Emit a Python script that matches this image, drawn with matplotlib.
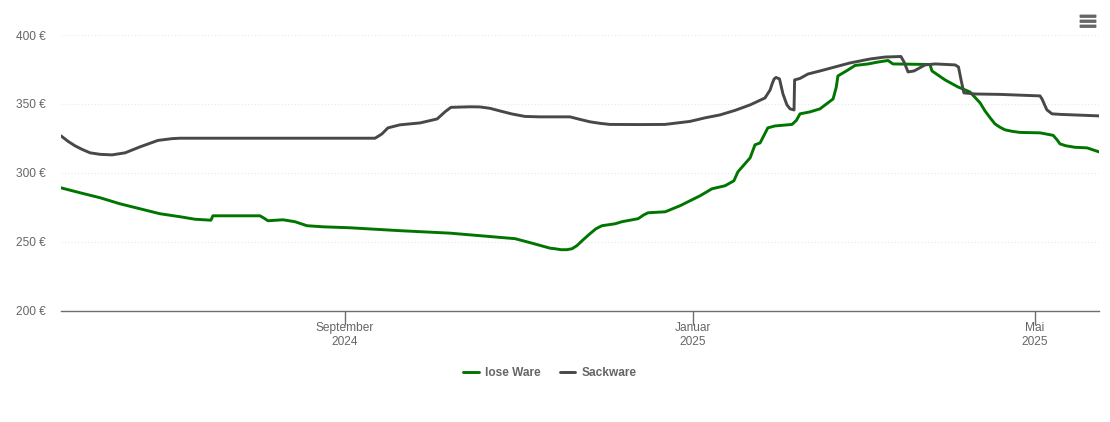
import datetime as dt
import matplotlib
matplotlib.use("Agg")
import matplotlib.pyplot as plt
import matplotlib.dates as mdates
from matplotlib.patches import FancyBboxPatch

plt.rcParams['font.family'] = ['Liberation Sans', 'DejaVu Sans']

START = dt.datetime(2024, 5, 24, 8, 24)

lose_days = [0, 6.7, 13.7, 20.7, 27.7, 34.7, 41.8, 47, 52.6, 53.3, 69.8, 71.3, 72.6, 77.9, 82.1, 86.3, 92, 101.4, 118.9, 136.5, 159.3,
             164.6, 171.6, 173.3, 175.4, 177.5, 179.3, 181, 183.2, 185.6, 187.7, 189.8, 194.4, 196.8, 202.5, 204.5, 206, 212, 217.2, 224.2, 228.4,
             233, 236.1, 237.5, 241.8, 243.5, 245.3, 248, 250.5, 256.5, 258, 259.3, 262.8, 266.3, 270.9, 272, 272.6,
             276.1, 278.6, 283.2, 286.7, 290.2, 291.9, 304.9, 305.6, 310.2, 314.7, 318.9, 322.5, 324.2, 326, 327.7, 329.5,
             331.2, 333.7, 336.5, 343.5, 348.1, 349.5, 350.5, 352.6, 355.8, 360, 364.2]
lose_vals = [289.1, 285.5, 281.9, 277.5, 273.9, 270.3, 268.1, 266.3, 265.6, 268.8, 268.8, 267, 265.2, 265.9, 264.5, 261.6, 260.8, 260.1, 258, 256.2, 252.2,
             249.3, 245.3, 244.9, 244.2, 244.2, 244.9, 247.1, 251.4, 255.8, 259.4, 261.6, 263, 264.5, 266.7, 269.5, 271, 271.7, 276.1, 283.3, 288.4,
             290.6, 294.2, 300.7, 310.9, 320.3, 321.7, 332.6, 334, 335.1, 338, 342.8, 344.2, 346.4, 353.6, 362, 370.3,
             374.6, 377.9, 379, 380.4, 381.5, 379, 378.6, 373.9, 367.4, 362.3, 358.7, 350.7, 344.9, 339.9, 335.5, 333,
             331.2, 330.1, 329.3, 329, 327.2, 323.9, 321, 319.6, 318.5, 318.1, 315.2]

sack_days = [0, 2.5, 4.9, 7.4, 10.2, 13.7, 17.9, 22.5, 27.7, 34, 39, 41.8, 110.2, 112.6, 114.7, 118.9, 126, 132, 134.7, 136.8,
             143.5, 147, 150.5, 154, 158.2, 162.8, 167.9, 178.6, 182, 185.6, 189.1, 192.6, 203.2, 211.9, 220.7, 226, 231.2, 236.5, 241.8, 247, 248.8,
             249.5, 250.2, 250.9, 252.1, 253.3, 254.7, 255.8, 257.2, 257.4, 259.3, 262.1, 266.3, 276.8, 283.9, 289.1, 294.7, 295.8, 297.2,
             299.3, 303.2, 306.7, 313.7, 314.9, 315.8, 316.8, 320.7, 329.5, 343.5, 344.2, 345.9, 347.7, 350.5, 364.2]
sack_vals = [326.8, 322.8, 319.6, 317, 314.5, 313.4, 313, 314.5, 318.8, 323.5, 324.8, 325.1, 325.1, 328.2, 332.6, 334.8, 336.2, 339.1, 344.2, 347.5,
             347.9, 347.8, 346.8, 344.9, 342.7, 340.9, 340.6, 340.6, 338.8, 337, 335.9, 335.1, 335, 335.1, 337.3, 339.9, 342, 345.3, 349.3, 354.3, 360.1,
             364.5, 368.1, 369.2, 368.1, 357.3, 349.3, 346.4, 345.6, 367.4, 368.5, 371.7, 373.9, 379.7, 382.6, 384, 384.4, 380.4, 373.2,
             373.9, 378.3, 379, 378.3, 376.8, 367.4, 358, 357.2, 356.9, 355.8, 353.6, 345.7, 342.8, 342.4, 341.3]

y_ticks = [200, 250, 300, 350, 400]
x_tick_dates = [dt.datetime(2024, 9, 1), dt.datetime(2025, 1, 1), dt.datetime(2025, 5, 1)]
x_tick_labels = ["September\n2024", "Januar\n2025", "Mai\n2025"]

W, H = 1110, 422
fig = plt.figure(figsize=(W / 100, H / 100), dpi=100, facecolor="white")
ax = fig.add_axes([61 / W, 1 - 310.6 / H, (1099 - 61) / W, (310.6 - 35) / H])


def to_dates(days):
    return [START + dt.timedelta(days=d) for d in days]


ax.plot(to_dates(lose_days), lose_vals, color="#007600", lw=2.1, label="lose Ware",
        solid_joinstyle="round", solid_capstyle="round", zorder=3)
ax.plot(to_dates(sack_days), sack_vals, color="#484848", lw=2.1, label="Sackware",
        solid_joinstyle="round", solid_capstyle="round", zorder=4)

ax.set_xlim(START, START + dt.timedelta(days=364.2))
ax.set_ylim(200, 400)
ax.set_facecolor("none")
for s in ("top", "left", "right"):
    ax.spines[s].set_visible(False)
ax.spines["bottom"].set_color("#6e6e6e")
ax.spines["bottom"].set_linewidth(1.0)

ax.set_yticks(y_ticks)
ax.set_yticklabels([f"{v} €" for v in y_ticks])
ax.tick_params(axis="y", length=0, pad=11, labelsize=8.6, labelcolor="#666666")
ax.set_xticks([mdates.date2num(d) for d in x_tick_dates])
ax.set_xticklabels(x_tick_labels, linespacing=1.2)
ax.tick_params(axis="x", length=10, width=1, color="#6e6e6e", pad=-2, labelsize=8.6, labelcolor="#666666")
ax.grid(axis="y", color="#e8e8e8", lw=0.8, ls=(0, (1, 2)))
ax.set_axisbelow(True)

leg = fig.legend(loc="center", bbox_to_anchor=(550 / W, 1 - 373 / H), ncol=2, frameon=False,
                 prop={"size": 8.6, "weight": "bold"}, labelcolor="#666666",
                 handlelength=1.3, handletextpad=0.55, columnspacing=1.55, borderpad=0)

for top in (15, 20, 25):
    fig.add_artist(FancyBboxPatch((1080 / W, 1 - (top + 2.4) / H), 16 / W, 2.4 / H,
                                  boxstyle="round,pad=0", transform=fig.transFigure,
                                  facecolor="#666666", edgecolor="#666666", lw=0.6))

fig.savefig("out.png", dpi=100, facecolor="white")
